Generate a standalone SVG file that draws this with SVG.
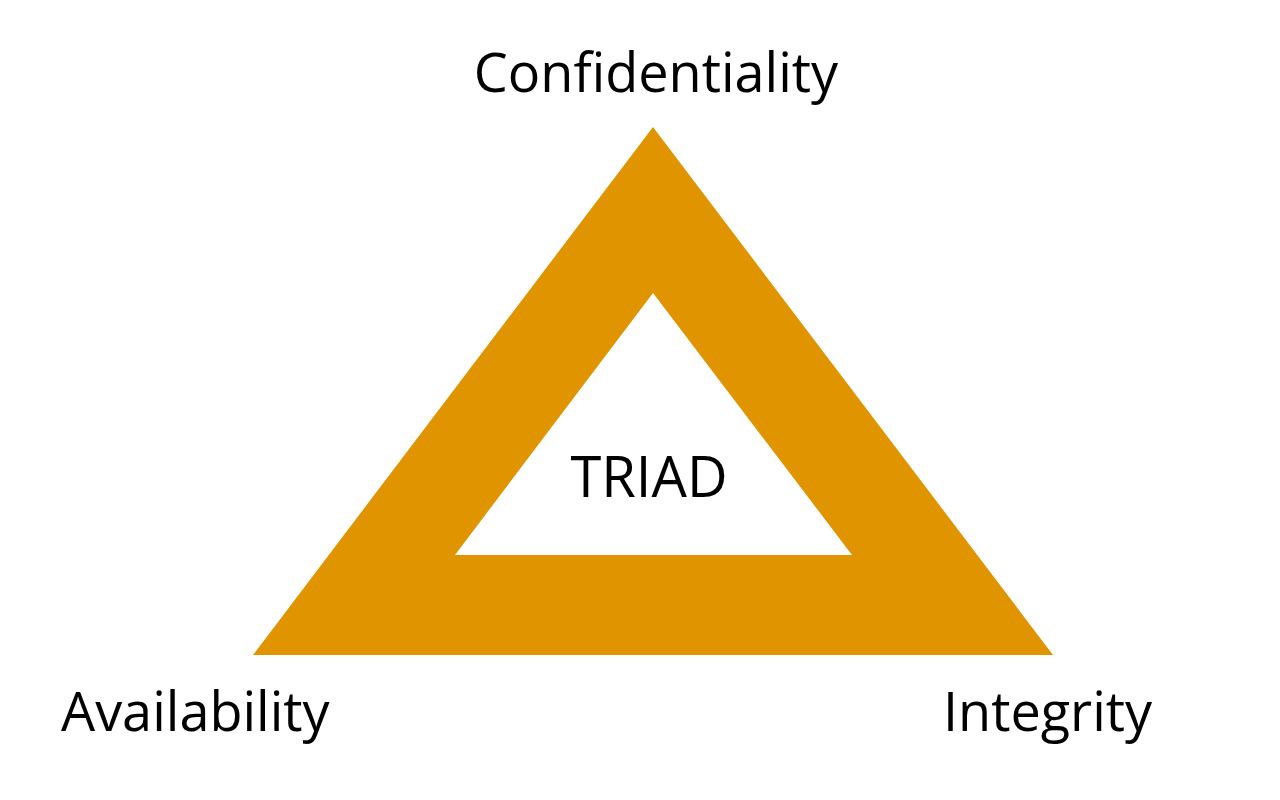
<svg xmlns="http://www.w3.org/2000/svg" width="1280" height="800" viewBox="0 0 1280 800">
<style>
.lbl{font-family:"Open Sans","Noto Sans","DejaVu Sans",sans-serif;fill:#000;font-size:54px}
</style>
<rect width="1280" height="800" fill="#fff"/>
<g id="triangle">
<path d="M653,127 L1053,655 L253,655 Z M653,293 L455,555 L852,555 Z" fill="#E09500" fill-rule="evenodd"/>
</g>
<g id="confidentiality"><text class="lbl" x="656" y="92" text-anchor="middle">Confidentiality</text></g>
<g id="availability"><text class="lbl" x="61" y="731">Availability</text></g>
<g id="integrity"><text class="lbl" x="943" y="731">Integrity</text></g>
<g id="triad"><text class="lbl" x="649" y="497" text-anchor="middle" style="font-size:56px">TRIAD</text></g>
<g id="connectors"/>
</svg>
